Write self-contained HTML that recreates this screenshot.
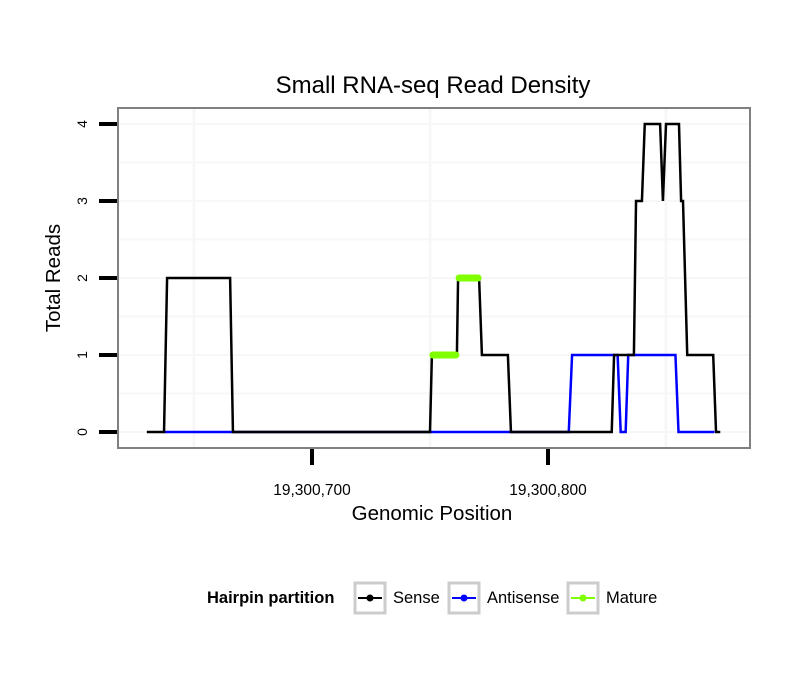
<!DOCTYPE html>
<html><head><meta charset="utf-8"><style>
body{margin:0;background:#fff;width:810px;height:690px;overflow:hidden}
text{font-family:"Liberation Sans",sans-serif}
</style></head><body>
<svg id="chart" width="810" height="690">
<text x="433" y="93" text-anchor="middle" font-size="24">Small RNA-seq Read Density</text>
<rect x="118" y="108" width="632" height="340" fill="#fff"/>
<g id="grid"></g>
<g id="series"></g>
<rect x="118" y="108" width="632" height="340" fill="none" stroke="#808080" stroke-width="2"/>
<g id="axes"></g>
<text x="432" y="520" text-anchor="middle" font-size="20.5">Genomic Position</text>
<text transform="translate(60,278) rotate(-90)" text-anchor="middle" font-size="20.5">Total Reads</text>
<g>
<text x="207" y="603" font-size="16.5" font-weight="bold">Hairpin partition</text>
<g>
<rect x="355" y="583" width="30" height="30" fill="#fff" stroke="#ccc" stroke-width="3"/>
<line x1="358" y1="598" x2="382" y2="598" stroke="#000" stroke-width="2"/><circle cx="370" cy="598" r="3.5" fill="#000"/>
<text x="393" y="603" font-size="16.5">Sense</text></g>
<g>
<rect x="449" y="583" width="30" height="30" fill="#fff" stroke="#ccc" stroke-width="3"/>
<line x1="452" y1="598" x2="476" y2="598" stroke="#00f" stroke-width="2"/><circle cx="464" cy="598" r="3.5" fill="#00f"/>
<text x="487" y="603" font-size="16.5">Antisense</text></g>
<g>
<rect x="568" y="583" width="30" height="30" fill="#fff" stroke="#ccc" stroke-width="3"/>
<line x1="571" y1="598" x2="595" y2="598" stroke="#7fff00" stroke-width="2"/><circle cx="583" cy="598" r="3.5" fill="#7fff00"/>
<text x="606" y="603" font-size="16.5">Mature</text></g>
</g>
</svg>
<script>
// positions are offsets from 19,300,700
const sensePos = [-70,-62.7,-61.4,-34.7,-33.5,50,50.8,61.4,61.9,70.8,72,83,84.3,127,128,136.4,137.3,139.8,141,147.5,148.7,150,155.5,156.4,157.2,159,170,171.2,173];
const senseVal = [0,0,2,2,0,0,1,1,2,2,1,1,0,0,1,1,3,3,4,4,3,4,4,3,3,1,1,0,0];
const antiPos = [-62.7,108.8,110.2,128,129.5,130.8,132.9,134,154,155.3,170.5];
const antiVal = [0,0,1,1,1,0,0,1,1,0,0];
const matureSegStart = [50.8,61.9];
const matureSegEnd = [61.4,70.8];
const matureVal = [1,2];
const yTicks = [0,1,2,3,4];
const xTicks = [0,100];
const xTickLabels = ["19,300,700","19,300,800"];
const NS="http://www.w3.org/2000/svg";
const xs = p => 312 + p*2.36;
const ys = v => 432 - v*77;
function mk(tag, attrs, parent){const e=document.createElementNS(NS,tag);for(const k in attrs)e.setAttribute(k,attrs[k]);parent.appendChild(e);return e;}
const grid=document.getElementById('grid'), ser=document.getElementById('series'), ax=document.getElementById('axes');
for(let v=-0.5; v<=4.5; v+=0.5){const y=ys(v); if(y<110||y>446) continue;
 const l=mk('line',{x1:119,x2:749,y1:y,y2:y,stroke:'#f7f7f7','stroke-width':2},grid);
 
 }
[-50,50,150].forEach(p=>{const l=mk('line',{x1:xs(p),x2:xs(p),y1:109,y2:447,stroke:'#f7f7f7','stroke-width':3},grid);
 
 });
function pts(P,V){return P.map((p,i)=>xs(p)+','+ys(V[i])).join(' ');}
const a=mk('polyline',{points:pts(antiPos,antiVal),fill:'none',stroke:'#0000ff','stroke-width':2.5},ser);


const s=mk('polyline',{points:pts(sensePos,senseVal),fill:'none',stroke:'#000','stroke-width':2.5},ser);


matureSegStart.forEach((p,i)=>{const m=mk('line',{x1:xs(p)+1,x2:xs(matureSegEnd[i])-1,y1:ys(matureVal[i]),y2:ys(matureVal[i]),stroke:'#7fff00','stroke-width':7,'stroke-linecap':'round'},ser);
 
 });
yTicks.forEach(v=>{const t=mk('line',{x1:99,x2:117,y1:ys(v),y2:ys(v),stroke:'#000','stroke-width':4},ax);
 
 
 const tx=mk('text',{transform:`translate(87,${ys(v)}) rotate(-90)`,'text-anchor':'middle','font-size':14},ax);
 tx.textContent=v;
 
 });
xTicks.forEach((p,i)=>{const t=mk('line',{x1:xs(p),x2:xs(p),y1:449,y2:465,stroke:'#000','stroke-width':4},ax);
 
 
 const tx=mk('text',{x:xs(p),y:495,'text-anchor':'middle','font-size':15.5},ax);
 tx.textContent=xTickLabels[i];
 
 });
</script>
</body></html>
